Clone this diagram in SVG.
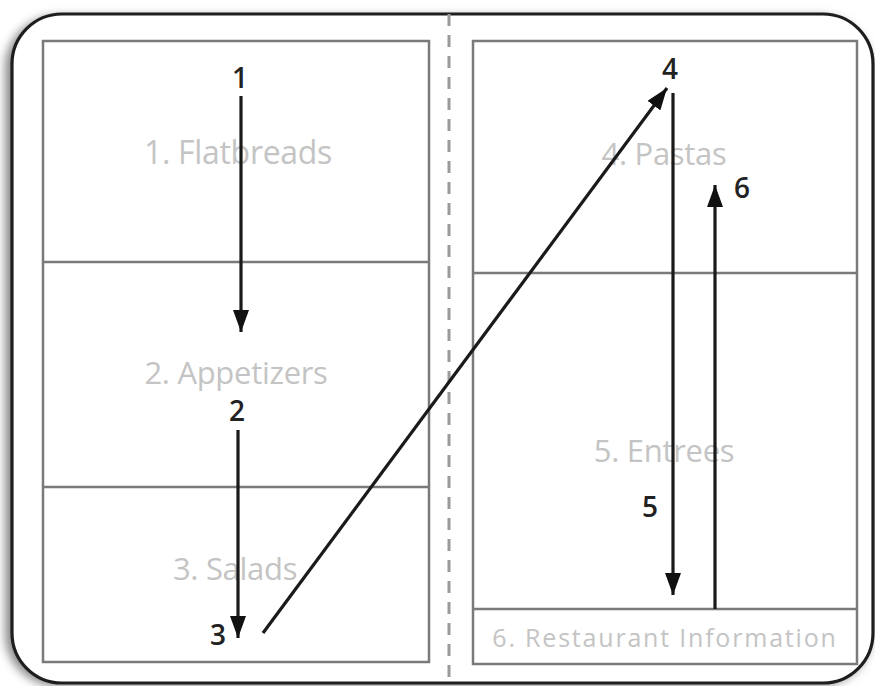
<svg xmlns="http://www.w3.org/2000/svg" width="875" height="686" viewBox="0 0 875 686">
<defs>
<filter id="sh" x="-10%" y="-10%" width="120%" height="120%"><feGaussianBlur stdDeviation="5"/></filter>
<marker id="ah" markerUnits="userSpaceOnUse" markerWidth="24" markerHeight="16" refX="22" refY="8" orient="auto">
<path d="M0,0 L22,8 L0,16 Z" fill="#111"/>
</marker>
</defs>
<style>
.panel{fill:none;stroke:#7a7a7a;stroke-width:2.5}
.lbl{font-family:"Open Sans","Liberation Sans",sans-serif;fill:#c4c4c4;text-anchor:middle;letter-spacing:-0.3px}
.num{font-family:"Open Sans","Liberation Sans",sans-serif;fill:#222;font-weight:600;font-size:28px;text-anchor:middle}
.arr{stroke:#1a1a1a;stroke-width:3.2;fill:none}
</style>
<rect x="0" y="0" width="875" height="686" fill="#ffffff"/>
<rect x="5" y="16" width="866" height="670" rx="52" fill="#8a8a8a" filter="url(#sh)"/>
<rect x="12" y="14" width="861" height="669" rx="50" fill="#ffffff" stroke="#1e1e1e" stroke-width="3.2"/>
<line x1="449" y1="14" x2="449" y2="686" stroke="#9a9a9a" stroke-width="3" stroke-dasharray="12,9"/>
<g id="left-menu">
<rect class="panel" x="43" y="41" width="386" height="621"/>
</g>
<g id="flatbreads">
<line class="panel" x1="43" y1="262" x2="429" y2="262"/>
<text class="lbl" x="238" y="164" font-size="32">1. Flatbreads</text>
</g>
<g id="appetizers">
<line class="panel" x1="43" y1="487" x2="429" y2="487"/>
<text class="lbl" x="236" y="384" font-size="31">2. Appetizers</text>
</g>
<g id="salads">
<text class="lbl" x="235" y="580" font-size="31">3. Salads</text>
</g>
<g id="right-menu">
<rect class="panel" x="473" y="41" width="384" height="623"/>
</g>
<g id="pastas">
<line class="panel" x1="473" y1="273" x2="857" y2="273"/>
<text class="lbl" x="664" y="165" font-size="31">4. Pastas</text>
</g>
<g id="entrees">
<line class="panel" x1="473" y1="609" x2="857" y2="609"/>
<text class="lbl" x="664" y="462" font-size="31">5. Entrees</text>
</g>
<g id="restaurant-info">
<text class="lbl" x="665" y="647" font-size="25" style="letter-spacing:1.8px">6. Restaurant Information</text>
</g>
<g id="connectors">
<line class="arr" x1="241" y1="96" x2="241" y2="332" marker-end="url(#ah)"/>
<line class="arr" x1="238" y1="430" x2="238" y2="638" marker-end="url(#ah)"/>
<line class="arr" x1="263" y1="633" x2="667" y2="88" stroke-width="2.6" marker-end="url(#ah)"/>
<line class="arr" x1="673" y1="93" x2="673" y2="595" marker-end="url(#ah)"/>
<line class="arr" x1="715" y1="609" x2="715" y2="185" marker-end="url(#ah)"/>
</g>
<g id="step-numbers">
<text class="num" x="240" y="88">1</text>
<text class="num" x="237" y="421">2</text>
<text class="num" x="218" y="645">3</text>
<text class="num" x="670" y="79">4</text>
<text class="num" x="650" y="517">5</text>
<text class="num" x="742" y="198">6</text>
</g>
</svg>
